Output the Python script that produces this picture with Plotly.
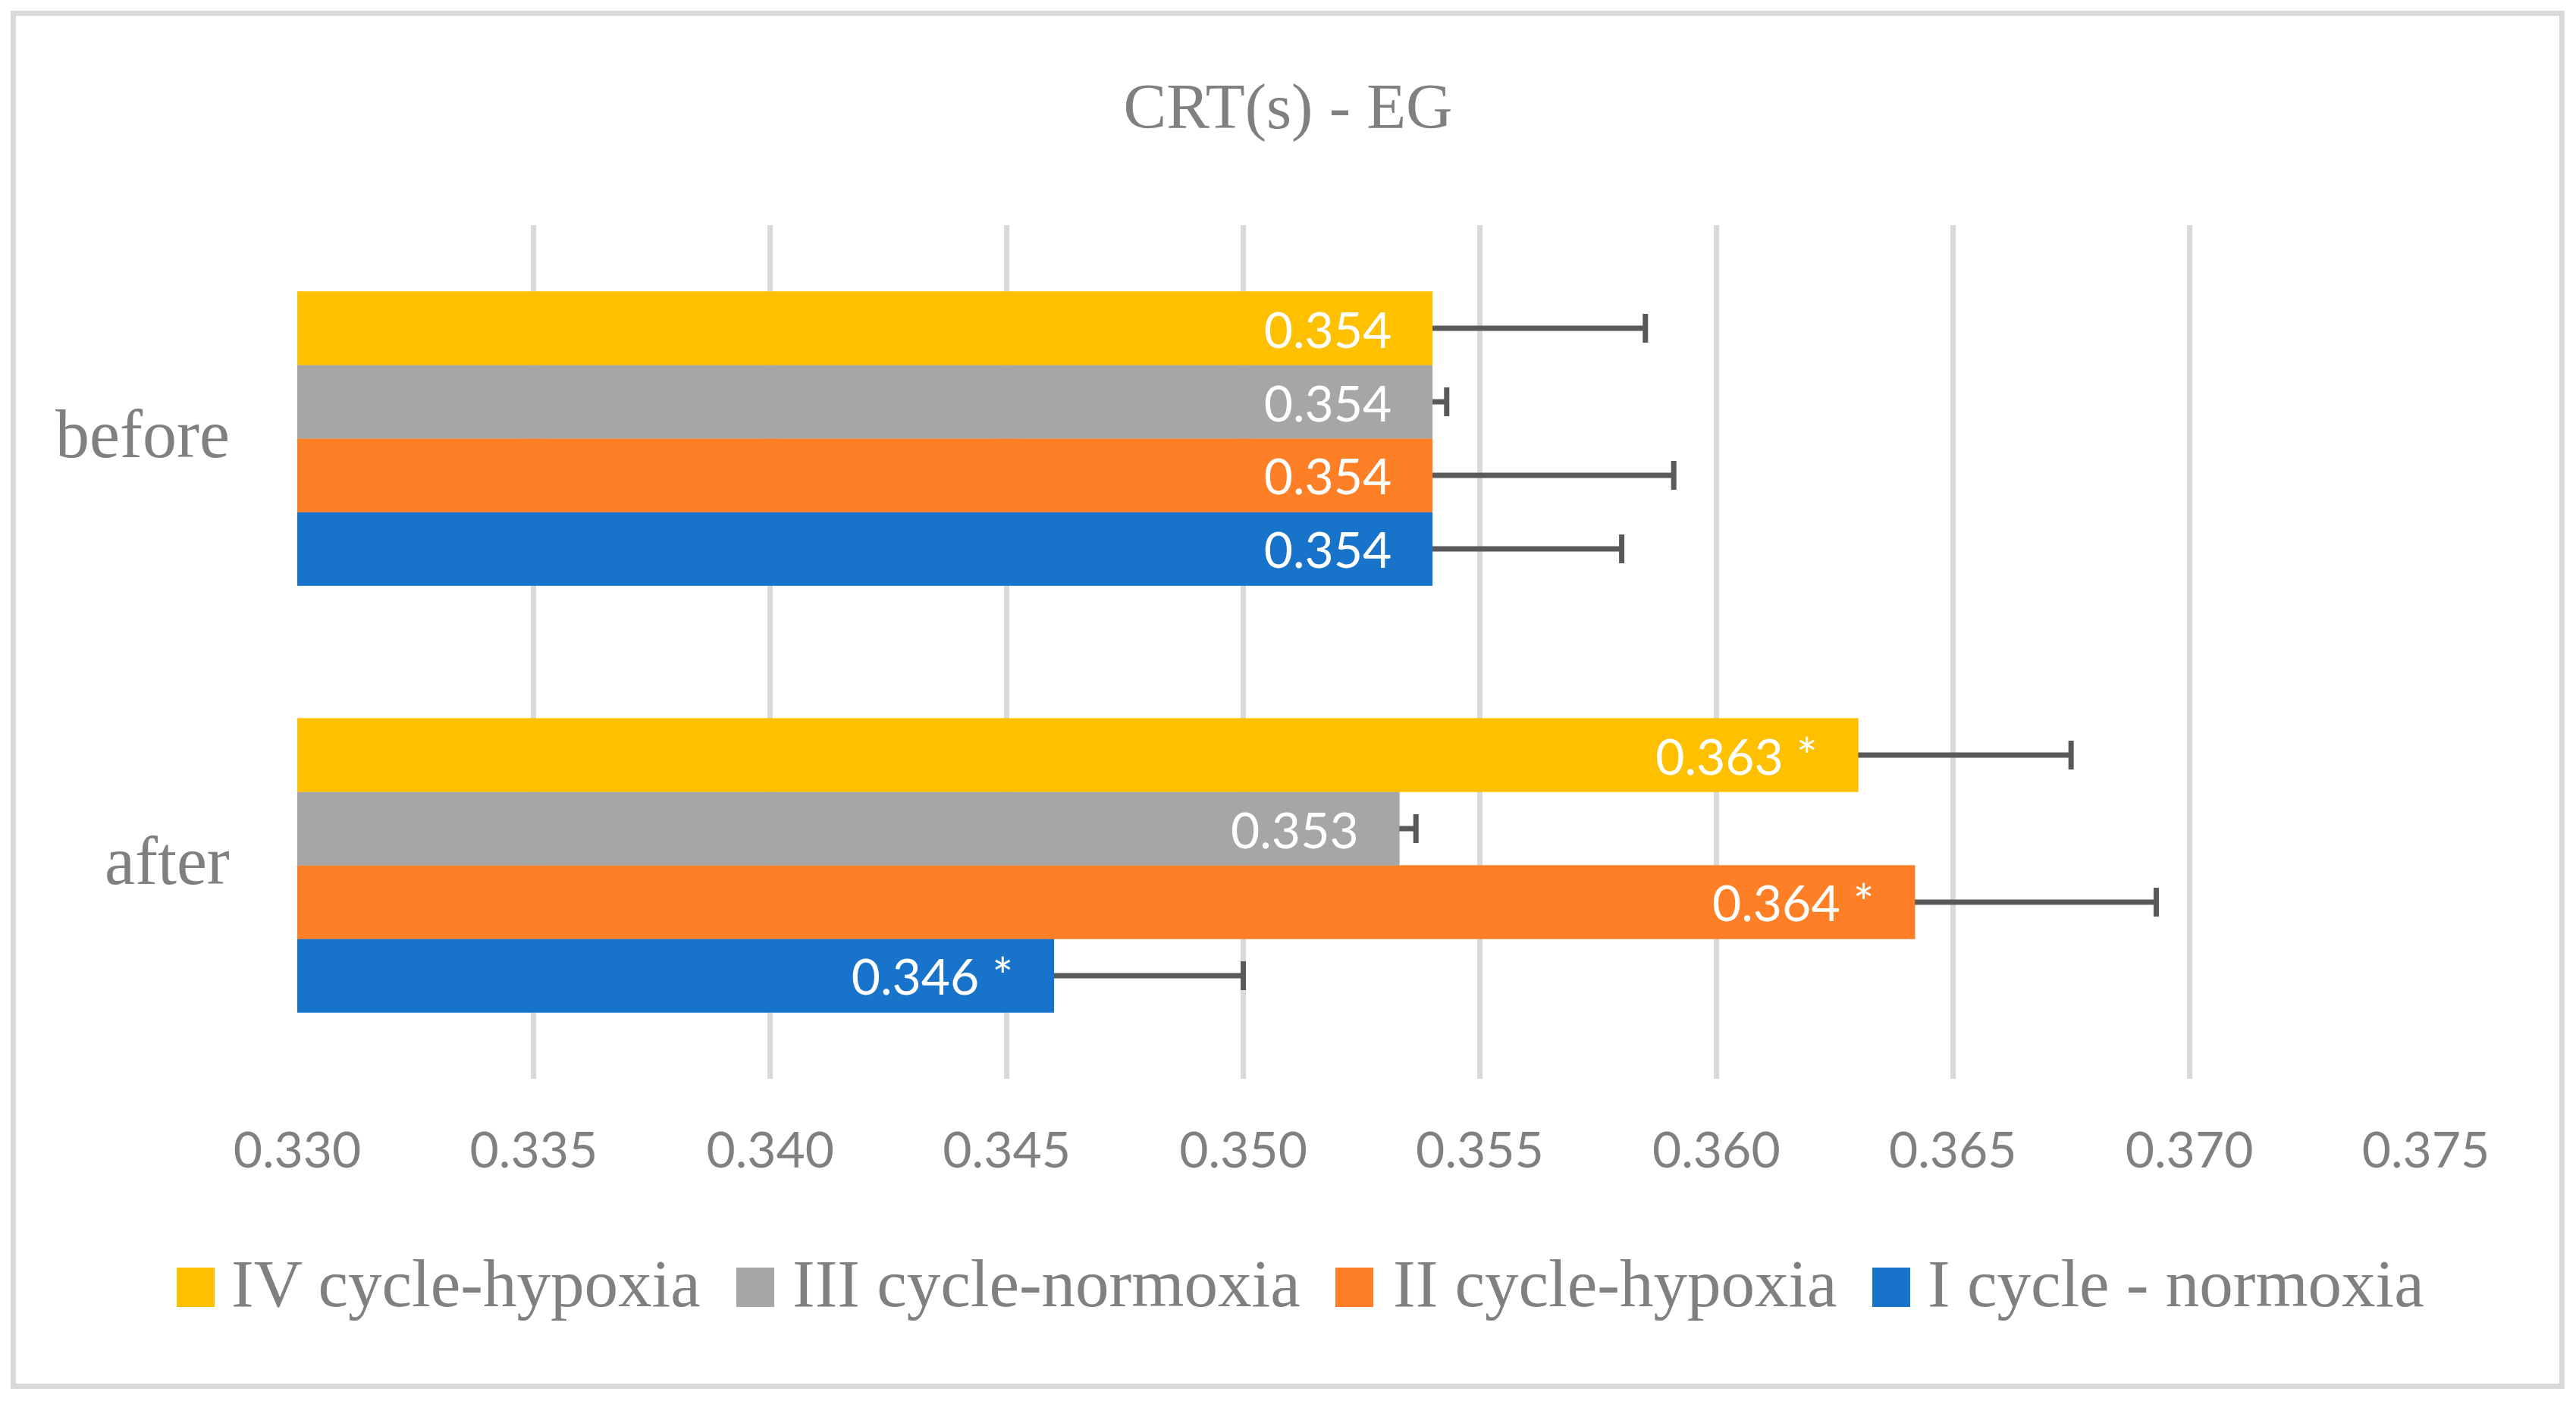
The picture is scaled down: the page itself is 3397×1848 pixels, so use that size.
import plotly.graph_objects as go

# ---------------- data ----------------
categories = ["before", "after"]
series_names = ["I cycle - normoxia", "II cycle-hypoxia", "III cycle-normoxia", "IV cycle-hypoxia"]
series_colors = ["#1874CA", "#FF7F27", "#A6A6A6", "#FFC000"]

values_I = [0.354, 0.346]
values_II = [0.354, 0.3642]
values_III = [0.354, 0.3533]
values_IV = [0.354, 0.363]

errors_I = [0.0040, 0.0040]
errors_II = [0.0051, 0.0051]
errors_III = [0.0003, 0.00035]
errors_IV = [0.0045, 0.0045]

labels_I = ["0.354", "0.346 *"]
labels_II = ["0.354", "0.364 *"]
labels_III = ["0.354", "0.353"]
labels_IV = ["0.354", "0.363 *"]

x_ticks = [0.330, 0.335, 0.340, 0.345, 0.350, 0.355, 0.360, 0.365, 0.370, 0.375]
title_text = "CRT(s) - EG"

# ---------------- layout geometry ----------------
OFF = 8  # page body margin
W, H = 3397 - 2 * OFF, 1848 - 2 * OFF
L = 392 - OFF
R = W - (3199 - OFF)
T = 297 - OFF
B = H - (1423 - OFF)
PW, PH = W - L - R, H - T - B


def px(xs):
    return (xs - OFF - L) / PW


def py(ys):
    return (H - B - (ys - OFF)) / PH


GRAY_TEXT = "#808080"
SERIF = "Liberation Serif"
SANS = "Lato"
PAD = "\u00a0" * 3
HIDDEN_START = 0.0001  # error bar starts hidden inside the bar (covered by the overlay copy)

values = [values_I, values_II, values_III, values_IV]
errors = [errors_I, errors_II, errors_III, errors_IV]
labels = [labels_I, labels_II, labels_III, labels_IV]

fig = go.Figure()
# bars carrying the one-sided error bars
for name, col, v, e in zip(series_names, series_colors, values, errors):
    fig.add_trace(go.Bar(
        name=name, y=categories, x=v, orientation="h",
        marker=dict(color=col, line=dict(width=0)),
        error_x=dict(type="data", array=e, symmetric=False,
                     arrayminus=[HIDDEN_START] * len(e),
                     color="#595959", thickness=7, width=19),
        showlegend=False, hoverinfo="skip",
        xaxis="x", yaxis="y",
    ))
# identical bars drawn on top (overlay axes) carrying the value labels
for name, col, v, lab in zip(series_names, series_colors, values, labels):
    fig.add_trace(go.Bar(
        name=name, y=categories, x=v, orientation="h",
        marker=dict(color=col, line=dict(width=0)),
        text=[t + PAD for t in lab],
        textposition="inside", insidetextanchor="end", textangle=0,
        constraintext="none",
        textfont=dict(family=SANS, size=66, color="white"),
        showlegend=False,
        xaxis="x2", yaxis="y2",
    ))

shapes = []
annotations = []

# outer border
shapes.append(dict(type="rect", xref="paper", yref="paper",
                   x0=px(17.5), x1=px(3378.5), y0=py(1828.5), y1=py(17.5),
                   line=dict(color="#D9D9D9", width=7), fillcolor="rgba(0,0,0,0)", layer="below"))

# category labels
for cat in categories:
    annotations.append(dict(xref="paper", yref="y", x=px(305), y=cat, yshift=6,
                            xanchor="right", yanchor="middle", showarrow=False, text=cat,
                            font=dict(family=SERIF, size=90, color=GRAY_TEXT)))

# manual legend (order IV, III, II, I)
legend_sq_x = [233, 971, 1761, 2469]
legend_tx_x = [303, 1043, 1835, 2540]
for i, idx in enumerate([3, 2, 1, 0]):
    shapes.append(dict(type="rect", xref="paper", yref="paper",
                       x0=px(legend_sq_x[i]), x1=px(legend_sq_x[i] + 50),
                       y0=py(1724), y1=py(1672),
                       line=dict(width=0), fillcolor=series_colors[idx]))
    annotations.append(dict(xref="paper", yref="paper", x=px(legend_tx_x[i]), y=py(1693),
                            xanchor="left", yanchor="middle", showarrow=False,
                            text=series_names[idx],
                            font=dict(family=SERIF, size=89, color=GRAY_TEXT)))

x_range = [x_ticks[0], x_ticks[-1]]
cat_order = categories[::-1]

fig.update_layout(
    width=W, height=H,
    margin=dict(l=L, r=R, t=T, b=B, pad=0),
    paper_bgcolor="white", plot_bgcolor="white",
    barmode="group", bargap=0.311, bargroupgap=0,
    title=dict(text=title_text, x=0.5, xanchor="center", xref="container",
               y=1 - (139 - OFF) / H, yanchor="middle", yref="container",
               font=dict(family=SERIF, size=85, color=GRAY_TEXT)),
    xaxis=dict(range=x_range, tickmode="array", tickvals=x_ticks,
               ticktext=[f"{t:.3f}" for t in x_ticks],
               showgrid=True, gridcolor="#D9D9D9", gridwidth=6.5,
               zeroline=False, showline=False, ticks="",
               ticklabelstandoff=50,
               tickfont=dict(family=SANS, size=66, color=GRAY_TEXT)),
    yaxis=dict(type="category", categoryorder="array", categoryarray=cat_order,
               showgrid=False, zeroline=False, showline=False, ticks="",
               showticklabels=False),
    xaxis2=dict(overlaying="x", range=x_range, showgrid=False, zeroline=False,
                showline=False, showticklabels=False, ticks=""),
    yaxis2=dict(overlaying="y", type="category", categoryorder="array",
                categoryarray=cat_order, showgrid=False, zeroline=False,
                showline=False, showticklabels=False, ticks=""),
    shapes=shapes,
    annotations=annotations,
    showlegend=False,
)

fig.write_html("out.html", config={"displayModeBar": False})
